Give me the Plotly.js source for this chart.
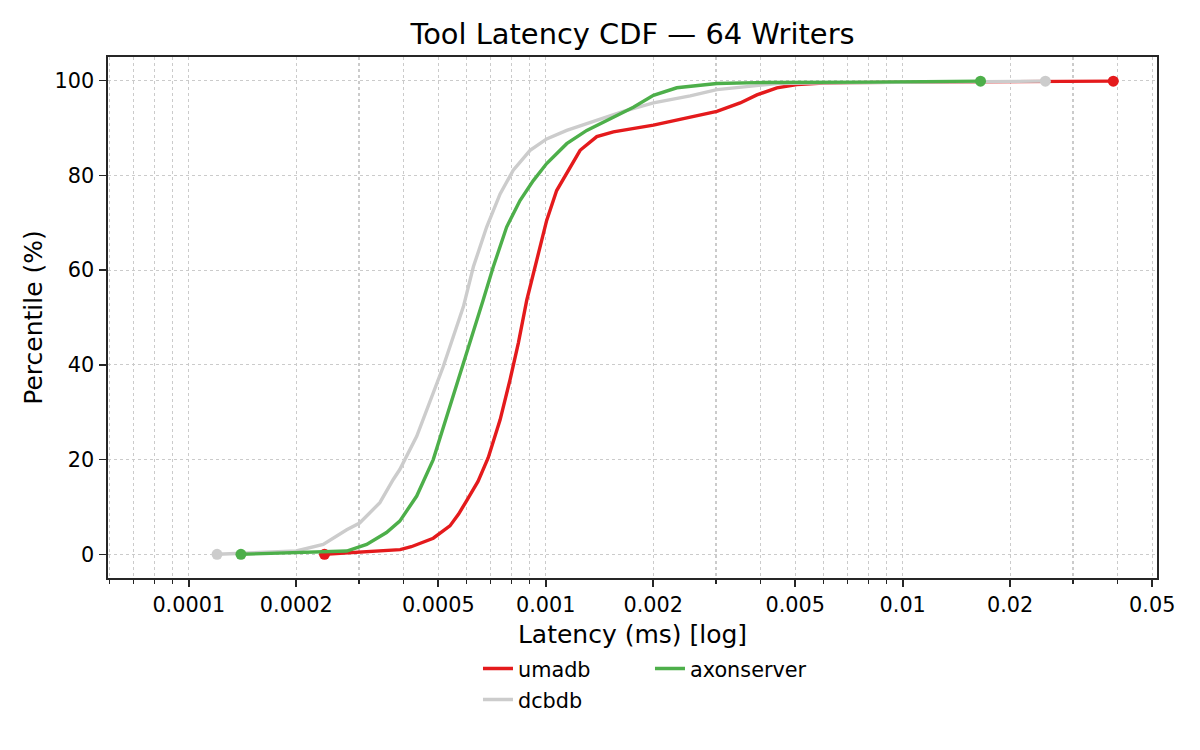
<!DOCTYPE html>
<html>
<head>
<meta charset="utf-8">
<script src="https://cdn.plot.ly/plotly-3.0.1.min.js"></script>
<style>
  html, body { margin: 0; padding: 0; background: #ffffff; }
  #myDiv { width: 1200px; height: 750px; }
</style>
</head>
<body>
<div id="myDiv"></div>
<script>
// latency in ms, percentile in %
var umadbLatency = [0.000240, 0.000320, 0.000391, 0.000420, 0.000450, 0.000484, 0.000539, 0.000570,
  0.000600, 0.000646, 0.000690, 0.000745, 0.000794, 0.000838, 0.000885, 0.000944, 0.001006, 0.001073,
  0.001145, 0.001248, 0.001390, 0.001547, 0.002003, 0.002432, 0.003016, 0.003505, 0.003904, 0.004442,
  0.005053, 0.006001, 0.007129, 0.0150, 0.0389];
var umadbPct = [0, 0.5, 1.0, 1.6, 2.4, 3.4, 6.0, 8.5,
  11.3, 15.4, 20.4, 28.4, 36.8, 44.6, 53.7, 62.1, 70.5, 76.8,
  80.4, 85.3, 88.2, 89.2, 90.6, 91.9, 93.5, 95.3, 97.0, 98.5,
  99.2, 99.5, 99.6, 99.75, 99.9];

var dcbdbLatency = [0.000120, 0.000160, 0.000200, 0.000238, 0.000277, 0.000301, 0.000343, 0.000374,
  0.000390, 0.000435, 0.000484, 0.000516, 0.000551, 0.000588, 0.000627, 0.000683, 0.000745, 0.000811,
  0.000904, 0.001006, 0.001145, 0.001331, 0.001650, 0.002003, 0.002539, 0.003016, 0.003739, 0.004442,
  0.005392, 0.0100, 0.0251];
var dcbdbPct = [0, 0.4, 0.7, 2.1, 5.2, 6.6, 10.9, 15.8,
  17.9, 24.9, 34.0, 39.6, 46.0, 52.3, 60.7, 69.1, 76.1, 81.1,
  85.3, 87.7, 89.5, 91.1, 93.5, 95.3, 96.8, 98.1, 98.9, 99.4,
  99.5, 99.7, 99.9];

var axonLatency = [0.000140, 0.000277, 0.000315, 0.000358, 0.000390, 0.000435, 0.000484, 0.000539,
  0.000588, 0.000627, 0.000668, 0.000713, 0.000777, 0.000847, 0.000923, 0.001006, 0.001145, 0.001303,
  0.001483, 0.001760, 0.002003, 0.002329, 0.003016, 0.003904, 0.0080, 0.01652];
var axonPct = [0, 0.7, 2.1, 4.6, 7.0, 12.3, 20.0, 31.2,
  40.4, 46.7, 53.7, 60.7, 69.1, 74.7, 78.9, 82.5, 86.7, 89.5,
  91.6, 94.4, 96.9, 98.5, 99.4, 99.6, 99.7, 99.9];

var xTickVals = [0.0001, 0.0002, 0.0005, 0.001, 0.002, 0.005, 0.01, 0.02, 0.05];
var xTickText = ['0.0001', '0.0002', '0.0005', '0.001', '0.002', '0.005', '0.01', '0.02', '0.05'];
var yTickVals = [0, 20, 40, 60, 80, 100];

var FONT = 'DejaVu Sans, Liberation Sans, sans-serif';
var gridColor = '#cbcbcb';
var spineColor = '#262626';

// minor ticks: every 1..9 step of each decade
function minorTicks() {
  var vals = [];
  for (var p = -5; p <= -1; p++) {
    for (var m = 1; m <= 9; m++) {
      vals.push(m * Math.pow(10, p));
    }
  }
  return vals;
}

function seriesTraces(name, xs, ys, color, legendId) {
  var line = {
    x: xs,
    y: ys,
    type: 'scatter',
    mode: 'lines',
    name: name,
    legend: legendId,
    line: { color: color, width: 3.4 },
    hoverinfo: 'skip',
  };
  // NOTE: dots on the first and last sample of each CDF
  var ends = {
    x: [xs[0], xs[xs.length - 1]],
    y: [ys[0], ys[ys.length - 1]],
    type: 'scatter',
    mode: 'markers',
    showlegend: false,
    marker: { color: color, size: 11 },
    hoverinfo: 'skip',
  };
  return [line, ends];
}

var trace = []
  .concat(seriesTraces('umadb', umadbLatency, umadbPct, '#e41a1c', 'legend'))
  .concat(seriesTraces('dcbdb', dcbdbLatency, dcbdbPct, '#cccccc', 'legend2'))
  .concat(seriesTraces('axonserver', axonLatency, axonPct, '#4daf4a', 'legend'));

var layout = {
  width: 1200,
  height: 750,
  paper_bgcolor: '#ffffff',
  plot_bgcolor: '#ffffff',
  font: { family: FONT, size: 20.8, color: '#000000' },
  margin: { l: 108, r: 43, t: 57, b: 172 },
  title: {
    text: 'Tool Latency CDF — 64 Writers',
    font: { family: FONT, size: 28.9, color: '#000000' },
    x: 0.5,
    xanchor: 'center',
    xref: 'paper',
    y: 0.955,
    yanchor: 'middle',
    yref: 'container',
  },
  xaxis: {
    type: 'log',
    range: [-4.2263, -1.2876],
    tickmode: 'array',
    tickvals: xTickVals,
    ticktext: xTickText,
    ticks: 'outside',
    ticklen: 7,
    tickwidth: 1.6,
    tickcolor: spineColor,
    ticklabelstandoff: 0,
    tickfont: { family: FONT, size: 20.8, color: '#000000' },
    showline: true,
    mirror: true,
    linecolor: spineColor,
    linewidth: 1.6,
    showgrid: true,
    gridcolor: gridColor,
    gridwidth: 1.2,
    griddash: 'dot',
    zeroline: false,
    minor: {
      tickmode: 'array',
      tickvals: minorTicks(),
      ticks: 'outside',
      ticklen: 4,
      tickwidth: 1.2,
      tickcolor: spineColor,
      showgrid: true,
      gridcolor: gridColor,
      gridwidth: 1.2,
      griddash: 'dot',
    },
    title: {
      text: 'Latency (ms) [log]',
      font: { family: FONT, size: 25, color: '#000000' },
      standoff: 10,
    },
  },
  yaxis: {
    range: [-5, 105],
    tickmode: 'array',
    tickvals: yTickVals,
    ticks: 'outside',
    ticklen: 7,
    tickwidth: 1.6,
    tickcolor: spineColor,
    ticklabelstandoff: 1,
    tickfont: { family: FONT, size: 20.8, color: '#000000' },
    showline: true,
    mirror: true,
    linecolor: spineColor,
    linewidth: 1.6,
    showgrid: true,
    gridcolor: gridColor,
    gridwidth: 1.2,
    griddash: 'dot',
    zeroline: false,
    title: {
      text: 'Percentile (%)',
      font: { family: FONT, size: 25, color: '#000000' },
      standoff: 5,
    },
  },
  showlegend: true,
  legend: {
    orientation: 'h',
    x: 0.3527,
    xanchor: 'left',
    y: -0.1747,
    yanchor: 'middle',
    entrywidth: 127,
    entrywidthmode: 'pixels',
    bgcolor: 'rgba(0,0,0,0)',
    font: { family: FONT, size: 20.8, color: '#000000' },
  },
  legend2: {
    orientation: 'h',
    x: 0.3527,
    xanchor: 'left',
    y: -0.234,
    yanchor: 'middle',
    bgcolor: 'rgba(0,0,0,0)',
    font: { family: FONT, size: 20.8, color: '#000000' },
  },
};

var config = {
  displayModeBar: false,
  staticPlot: true,
};

Plotly.newPlot('myDiv', trace, layout, config);
</script>
</body>
</html>
